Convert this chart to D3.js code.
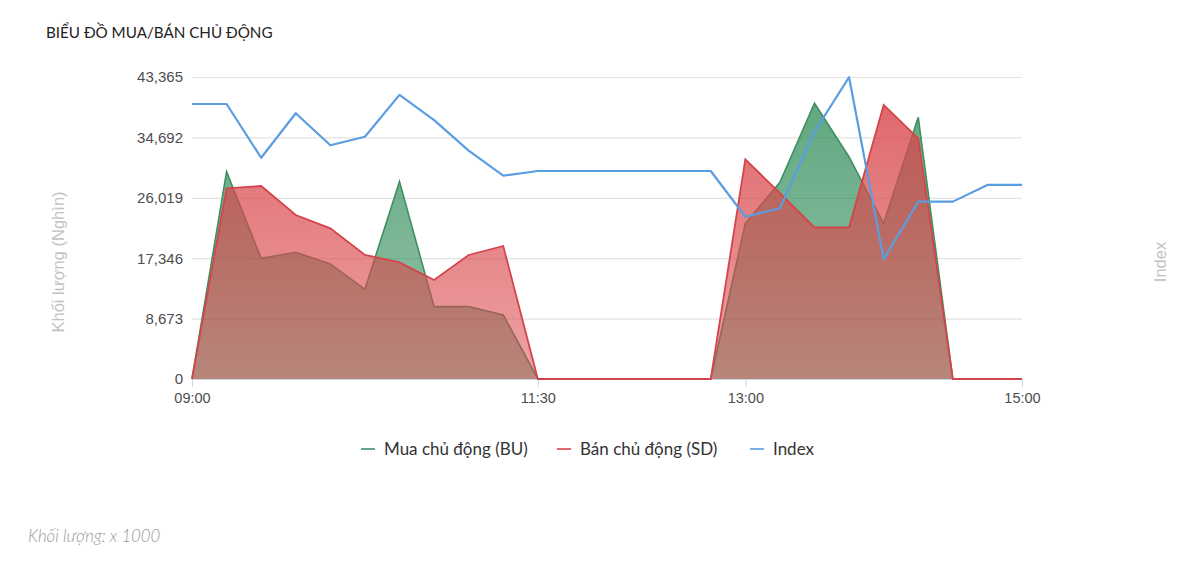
<!DOCTYPE html>
<html>
<head>
<meta charset="utf-8">
<script src="https://cdn.jsdelivr.net/npm/d3@7"></script>
<style>
  html, body { margin: 0; padding: 0; background: #fff; }
  #chart { width: 1200px; height: 562px; }
</style>
</head>
<body>
<div id="chart"></div>
<script>
// Biểu đồ mua/bán chủ động
const TIMES = ["09:00","09:15","09:30","09:45","10:00","10:15","10:30","10:45","11:00","11:15",
               "11:30","11:45","12:00","12:15","12:30","12:45","13:00","13:15","13:30","13:45",
               "14:00","14:15","14:30","14:45","15:00"];
const BUY   = [0, 29770, 17330, 18190, 16510, 12880, 28340, 10390, 10390, 9190,
               0, 0, 0, 0, 0, 0, 22360, 28250, 39590, 31880,
               22360, 37580, 0, 0, 0];
const SELL  = [0, 27380, 27710, 23550, 21630, 17810, 16750, 14220, 17810, 19100,
               0, 0, 0, 0, 0, 0, 31550, 26670, 21780, 21780,
               39350, 34560, 0, 0, 0];
const INDEX = [1238.66, 1238.66, 1235.99, 1238.20, 1236.61, 1237.03, 1239.11, 1237.86, 1236.34, 1235.10,
               1235.33, 1235.33, 1235.33, 1235.33, 1235.33, 1235.33, 1233.06, 1233.48, 1237.28, 1239.99,
               1230.95, 1233.81, 1233.81, 1234.64, 1234.64];
const Y_TICKS = [0, 8673, 17346, 26019, 34692, 43365];
const X_TICKS = ["09:00", "11:30", "13:00", "15:00"];
const SERIES  = ["Mua chủ động (BU)", "Bán chủ động (SD)", "Index"];

/* helpers */
const toMin = s => { const [h, m] = s.split(":").map(Number); return h * 60 + m; };
const fmtInt = d3.format(",");

const W = 1200, H = 562;
const margin = { top: 77, right: 178, bottom: 183, left: 192 };
const svg = d3.select("#chart").append("svg").attr("width", W).attr("height", H);

const x = d3.scaleLinear()
  .domain([toMin("09:00"), toMin("15:00")])
  .range([margin.left, W - margin.right]);
const y = d3.scaleLinear()
  .domain([0, d3.max(Y_TICKS)])
  .range([H - margin.bottom, margin.top]);
const y2 = d3.scaleLinear()
  .domain([1225, 1240])
  .range([H - margin.bottom, margin.top]);

const rows = TIMES.map((t, i) => ({ t: toMin(t), buy: BUY[i], sell: SELL[i], idx: INDEX[i] }));

// gradients
const defs = svg.append("defs");
function grad(id, color, a0, a1){
  const g = defs.append("linearGradient").attr("id", id)
    .attr("gradientUnits", "userSpaceOnUse")
    .attr("x1", 0).attr("x2", 0).attr("y1", margin.top).attr("y2", H - margin.bottom);
  g.append("stop").attr("offset", "0%").attr("stop-color", color).attr("stop-opacity", a0);
  g.append("stop").attr("offset", "100%").attr("stop-color", color).attr("stop-opacity", a1);
}
grad("gBuy", "#2e8b57", 0.78, 0.5);
grad("gSell", "#d9474c", 0.85, 0.5);

// Grid
svg.append("g")
  .attr("transform", `translate(${margin.left},0)`)
  .call(d3.axisLeft(y).tickValues(Y_TICKS).tickSize(-(W - margin.left - margin.right)).tickFormat(""))
  .call(g => g.selectAll(".tick line").attr("stroke", "#e3e3e3").attr("stroke-width", 1.2))
  .call(g => g.select(".domain").remove());

// Axis X
svg.append("g")
  .attr("transform", `translate(0,${H - margin.bottom})`)
  .call(d3.axisBottom(x).tickValues(X_TICKS.map(toMin)).tickSize(8).tickPadding(6)
    .tickFormat((d, i) => X_TICKS[i]))
  .call(g => g.select(".domain").attr("stroke", "#ccd6eb"))
  .call(g => g.selectAll(".tick line").attr("stroke", "#ccd6eb"))
  .call(g => g.selectAll("text").attr("fill", "#4d4d4d").attr("font-size", 14.5)
    .attr("font-family", "'Liberation Sans', Arial, sans-serif"));

// Axis Y
svg.append("g")
  .attr("transform", `translate(${margin.left},0)`)
  .call(d3.axisLeft(y).tickValues(Y_TICKS).tickSize(0).tickPadding(9).tickFormat(fmtInt))
  .call(g => g.select(".domain").remove())
  .call(g => g.selectAll("text").attr("fill", "#4d4d4d").attr("font-size", 15)
    .attr("font-family", "'Liberation Sans', Arial, sans-serif"));

// Areas + lines
const areaOf = key => d3.area().x(d => x(d.t)).y0(y(0)).y1(d => y(d[key]));
const lineOf = key => d3.line().x(d => x(d.t)).y(d => y(d[key]));

svg.append("path").datum(rows).attr("d", areaOf("buy")).attr("fill", "url(#gBuy)");
svg.append("path").datum(rows).attr("d", lineOf("buy"))
  .attr("fill", "none").attr("stroke", "#3f8f62").attr("stroke-width", 1.6);

svg.append("path").datum(rows).attr("d", areaOf("sell")).attr("fill", "url(#gSell)");
svg.append("path").datum(rows).attr("d", lineOf("sell"))
  .attr("fill", "none").attr("stroke", "#d4454b").attr("stroke-width", 1.8);

svg.append("path").datum(rows)
  .attr("d", d3.line().x(d => x(d.t)).y(d => y2(d.idx)))
  .attr("fill", "none").attr("stroke", "#5a9de0").attr("stroke-width", 2.2)
  .attr("stroke-linejoin", "round");

// Titles
svg.append("text")
  .attr("x", 46).attr("y", 38)
  .attr("font-family", "Lato, 'Open Sans', sans-serif").attr("font-size", 15.2)
  .attr("fill", "#222")
  .text("BIỂU ĐỒ MUA/BÁN CHỦ ĐỘNG");

svg.append("text")
  .attr("transform", "translate(64,262) rotate(-90)")
  .attr("text-anchor", "middle")
  .attr("font-family", "'Liberation Sans', Arial, sans-serif").attr("font-size", 16.5)
  .attr("fill", "#c2c2c2")
  .text("Khối lượng (Nghìn)");

svg.append("text")
  .attr("transform", "translate(1166,262) rotate(-90)")
  .attr("text-anchor", "middle")
  .attr("font-family", "'Liberation Sans', Arial, sans-serif").attr("font-size", 16.5)
  .attr("fill", "#c2c2c2")
  .text("Index");

// Legend
const legColors = ["#3f8f62", "#d4454b", "#5a9de0"];
const legX = [361, 557, 750];
const leg = svg.append("g").selectAll("g").data(SERIES).join("g")
  .attr("transform", (d, i) => `translate(${legX[i]},449)`);
leg.append("line").attr("x1", 0).attr("x2", 14).attr("y1", 0).attr("y2", 0)
  .attr("stroke", (d, i) => legColors[i]).attr("stroke-width", 1.6);
leg.append("text").attr("x", 23).attr("y", 0).attr("dy", "0.35em")
  .attr("font-family", "Lato, 'Open Sans', sans-serif").attr("font-size", 17)
  .attr("fill", "#333")
  .text(d => d);

// Note
svg.append("text")
  .attr("x", 28).attr("y", 542)
  .attr("font-family", "Lato, 'Open Sans', sans-serif").attr("font-size", 16.8)
  .attr("font-style", "italic").attr("font-weight", 300)
  .attr("fill", "#999")
  .text("Khối lượng: x 1000");
</script>
</body>
</html>
